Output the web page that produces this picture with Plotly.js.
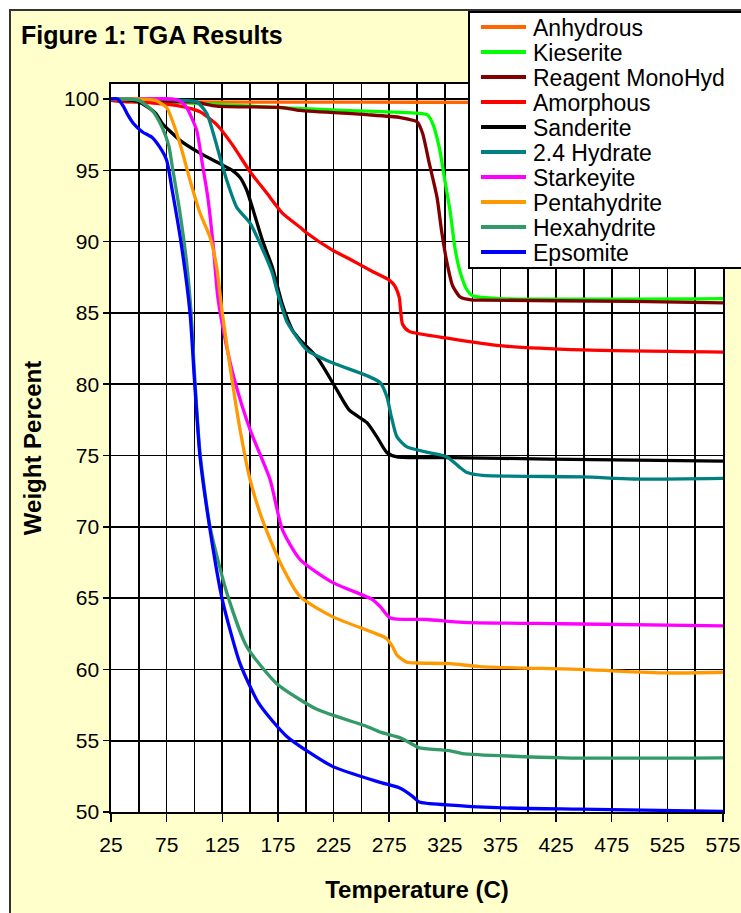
<!DOCTYPE html>
<html>
<head>
<meta charset="utf-8">
<script src="https://cdn.plot.ly/plotly-3.0.1.min.js"></script>
<style>
  html, body { margin: 0; padding: 0; background: #ffffff; overflow: hidden; }
  #frame { position: absolute; left: 9px; top: 9px; width: 800px; height: 1000px; background: #FFFFCC; border: 2px solid #333333; }
  #chart { position: absolute; left: 0; top: 0; width: 741px; height: 913px; }
</style>
</head>
<body>
<div id="frame"></div>
<div id="chart"></div>
<script>
// ---------- data ----------
const seriesNames = ["Anhydrous", "Kieserite", "Reagent MonoHyd", "Amorphous", "Sanderite",
                     "2.4 Hydrate", "Starkeyite", "Pentahydrite", "Hexahydrite", "Epsomite"];
const seriesColors = ["#FF6600", "#00FF00", "#800000", "#FF0000", "#000000",
                      "#008080", "#FF00FF", "#FF9900", "#339966", "#0000FF"];

const anhydrousT = [25, 50, 100, 200, 300, 400, 575];
const anhydrousW = [100, 99.9, 99.8, 99.78, 99.77, 99.76, 99.76];

const kieseriteT = [25, 100, 175, 233, 300, 309, 314, 320, 325, 330, 334, 339, 345, 350, 375, 575];
const kieseriteW = [100, 99.7, 99.4, 99.2, 99, 98.9, 98.3, 96.6, 94.3, 92, 89.6, 87.8, 86.6, 86.2, 86, 86];

const monohydT = [25, 39, 99, 120, 179, 195, 255, 285, 300, 305, 311, 318, 322, 327, 332, 339, 350, 359, 494, 575];
const monohydW = [99.9, 99.8, 99.8, 99.5, 99.4, 99.2, 98.9, 98.7, 98.4, 97.6, 95.5, 93.1, 90.8, 88.5, 86.9, 86.1, 85.9, 85.9, 85.8, 85.7];

const amorphousT = [25, 50, 87, 105, 120, 134, 150, 165, 179, 195, 201, 224, 239, 260, 275, 280, 284, 287, 293, 330, 375, 449, 575];
const amorphousW = [99.9, 99.8, 99.5, 99.1, 98.2, 96.8, 94.9, 93.4, 92, 91, 90.6, 89.4, 88.8, 87.9, 87.3, 86.9, 86.1, 84.2, 83.7, 83.2, 82.7, 82.4, 82.25];

const sanderiteT = [25, 50, 65, 71, 87, 105, 122, 134, 141, 147, 152, 161, 170, 179, 188, 195, 210, 228, 239, 255, 264, 273, 282, 330, 419, 575];
const sanderiteW = [100, 99.8, 99, 98.3, 97.1, 96.2, 95.5, 95, 94.5, 93.6, 92.4, 90.1, 88.2, 85.6, 83.8, 83.1, 81.9, 79.6, 78.2, 77.3, 76.3, 75.2, 74.9, 74.85, 74.75, 74.6];

const hydrate24T = [25, 60, 90, 102, 111, 118, 123, 129, 138, 150, 161, 170, 174, 179, 183, 201, 224, 255, 267, 273, 277, 282, 291, 311, 327, 338, 345, 359, 449, 494, 575];
const hydrate24W = [100, 100, 99.9, 99.8, 99, 97.3, 95.9, 94.3, 92.4, 91.3, 89.5, 87.8, 86.6, 85.3, 84.4, 82.4, 81.5, 80.6, 80.1, 79.1, 77.7, 76.3, 75.6, 75.2, 74.9, 74.2, 73.8, 73.6, 73.5, 73.35, 73.4];

const starkeyiteT = [25, 50, 80, 88, 93, 102, 107, 112, 117, 121, 129, 136, 150, 168, 179, 195, 224, 260, 267, 276, 309, 341, 431, 575];
const starkeyiteW = [100, 100, 100, 99.8, 99.4, 97.8, 95.5, 93.1, 89.6, 86.1, 82.6, 80.3, 76.8, 73.3, 69.8, 67.7, 66.1, 64.9, 64.4, 63.6, 63.5, 63.3, 63.2, 63.05];

const pentahydriteT = [25, 50, 65, 75, 81, 88, 96, 105, 114, 120, 125, 132, 141, 150, 161, 177, 195, 224, 260, 272, 278, 282, 291, 300, 330, 356, 446, 524, 575];
const pentahydriteW = [100, 100, 99.9, 99.4, 98.3, 96.6, 94.3, 92, 90.3, 88.2, 85, 81.2, 76.8, 73.3, 70.5, 67.5, 65.1, 63.7, 62.6, 62.2, 61.6, 61.0, 60.5, 60.45, 60.4, 60.2, 60, 59.75, 59.8];

const hexahydriteT = [25, 40, 50, 62, 71, 77, 80, 87, 93, 97, 100, 105, 114, 129, 147, 174, 210, 255, 267, 285, 297, 302, 329, 341, 431, 575];
const hexahydriteW = [100, 100, 99.9, 99.2, 98, 96.7, 95.3, 92, 88.5, 85, 80.8, 75.2, 70, 65.4, 61.6, 59, 57.2, 56, 55.6, 55.2, 54.7, 54.5, 54.3, 54.1, 53.8, 53.8];

const epsomiteT = [25, 31, 36, 40, 45, 53, 62, 69, 75, 80, 88, 96, 100, 105, 114, 125, 141, 158, 183, 224, 266, 284, 296, 302, 327, 372, 446, 575];
const epsomiteW = [100, 100, 99.5, 98.9, 98.3, 97.7, 97.3, 96.6, 95.7, 93.6, 89.9, 85, 80.3, 74.9, 69.8, 64.9, 60.4, 57.6, 55.3, 53.2, 52.1, 51.7, 51.1, 50.7, 50.5, 50.3, 50.2, 50.05];

const xTickVals = [25, 75, 125, 175, 225, 275, 325, 375, 425, 475, 525, 575];
const yTickVals = [50, 55, 60, 65, 70, 75, 80, 85, 90, 95, 100];

const seriesT = [anhydrousT, kieseriteT, monohydT, amorphousT, sanderiteT, hydrate24T, starkeyiteT, pentahydriteT, hexahydriteT, epsomiteT];
const seriesW = [anhydrousW, kieseriteW, monohydW, amorphousW, sanderiteW, hydrate24W, starkeyiteW, pentahydriteW, hexahydriteW, epsomiteW];

// ---------- layout geometry ----------
const W = 741, H = 913;
const M = { l: 111, r: 18, t: 84, b: 101 };
const plotW = W - M.l - M.r, plotH = H - M.t - M.b;
const px2x = px => (px - M.l) / plotW;     // page px -> paper x
const py2y = py => (H - M.b - py) / plotH; // page px -> paper y

const FONT = "Liberation Sans, Arial, sans-serif";

const traces = seriesNames.map((name, i) => ({
  type: "scatter",
  mode: "lines",
  name: name,
  x: seriesT[i],
  y: seriesW[i],
  line: { color: seriesColors[i], width: 3.3, shape: "spline", smoothing: 0.6 },
  showlegend: false,
  hoverinfo: "x+y+name"
}));

// custom legend box drawn over the plot (like the original)
const shapes = [{
  type: "rect", xref: "paper", yref: "paper", layer: "above",
  x0: px2x(469), x1: px2x(760), y0: py2y(268), y1: py2y(12),
  fillcolor: "#ffffff", line: { color: "#000000", width: 2 }
}];
const annotations = [];
seriesNames.forEach((name, i) => {
  const cy = 27 + 25 * i;
  shapes.push({
    type: "line", xref: "paper", yref: "paper", layer: "above",
    x0: px2x(481), x1: px2x(526), y0: py2y(cy), y1: py2y(cy),
    line: { color: seriesColors[i], width: 4 }
  });
  annotations.push({
    xref: "paper", yref: "paper", x: px2x(531), y: py2y(cy + 1),
    xanchor: "left", yanchor: "middle", showarrow: false,
    text: name, font: { family: FONT, size: 23, color: "#000000" }
  });
});

const layout = {
  width: W, height: H,
  margin: M,
  paper_bgcolor: "rgba(0,0,0,0)",
  plot_bgcolor: "#ffffff",
  font: { family: FONT, color: "#000000" },
  title: {
    text: "<b>Figure 1: TGA Results</b>",
    xref: "container", yref: "container",
    x: 21 / W, xanchor: "left",
    y: 1 - 35 / H, yanchor: "middle",
    font: { family: FONT, size: 25, color: "#000000" }
  },
  xaxis: {
    range: [25, 575],
    tickmode: "array", tickvals: xTickVals,
    ticks: "outside", ticklen: 8, tickwidth: 1.5, tickcolor: "#000000",
    ticklabelstandoff: 5,
    tickfont: { family: FONT, size: 21, color: "#000000" },
    showgrid: true, gridcolor: "#000000", gridwidth: 1.7,
    minor: { tick0: 25, dtick: 25, showgrid: true, gridcolor: "#000000", gridwidth: 1.7, ticks: "" },
    showline: true, linecolor: "#000000", linewidth: 1.7, mirror: true,
    zeroline: false,
    title: { text: "<b>Temperature (C)</b>", font: { family: FONT, size: 24, color: "#000000" }, standoff: 26 }
  },
  yaxis: {
    range: [50, 101.05],
    tickmode: "array", tickvals: yTickVals,
    ticks: "outside", ticklen: 6, tickwidth: 1.5, tickcolor: "#000000",
    tickfont: { family: FONT, size: 21, color: "#000000" },
    showgrid: true, gridcolor: "#000000", gridwidth: 1.7,
    showline: true, linecolor: "#000000", linewidth: 1.7, mirror: true,
    zeroline: false,
    title: { text: "<b>Weight Percent</b>", font: { family: FONT, size: 24, color: "#000000" }, standoff: 16 }
  },
  shapes: shapes,
  annotations: annotations,
  showlegend: false
};

Plotly.newPlot("chart", traces, layout, { displayModeBar: false, staticPlot: true });
</script>
</body>
</html>
